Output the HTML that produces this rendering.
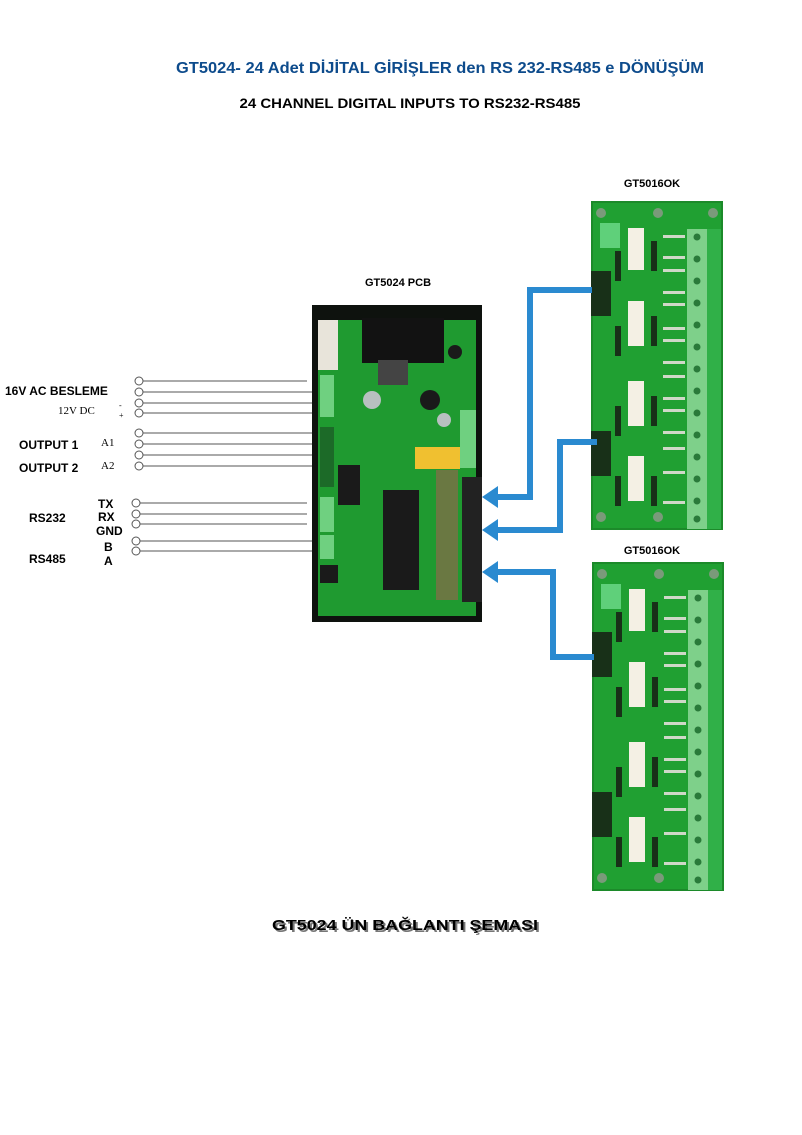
<!DOCTYPE html>
<html><head><meta charset="utf-8">
<style>
html,body{margin:0;padding:0;background:#fff;width:802px;height:1135px;overflow:hidden}
svg{display:block}
.h{font-family:"Liberation Sans",sans-serif;font-weight:bold}
.s{font-family:"Liberation Serif",serif;font-weight:bold}
</style></head><body>
<svg width="802" height="1135" viewBox="0 0 802 1135" xmlns="http://www.w3.org/2000/svg">
<defs>
<g id="board">
  <rect x="0" y="0" width="132" height="329" fill="#1c8a2a"/>
  <rect x="2" y="2" width="128" height="325" fill="#20a032"/>
  <circle cx="10" cy="12" r="5" fill="#7a9a7a"/><circle cx="67" cy="12" r="5" fill="#7a9a7a"/><circle cx="122" cy="12" r="5" fill="#7a9a7a"/>
  <circle cx="10" cy="316" r="5" fill="#7a9a7a"/><circle cx="67" cy="316" r="5" fill="#7a9a7a"/><circle cx="122" cy="316" r="5" fill="#7a9a7a"/>
  <rect x="9" y="22" width="20" height="25" fill="#5fd07a"/>
  <rect x="96" y="28" width="20" height="300" fill="#7ed08a"/>
  <rect x="116" y="28" width="14" height="300" fill="#30b048"/>
  <g fill="#2a7a3a">
   <circle cx="106" cy="36" r="3.5"/><circle cx="106" cy="58" r="3.5"/><circle cx="106" cy="80" r="3.5"/><circle cx="106" cy="102" r="3.5"/><circle cx="106" cy="124" r="3.5"/><circle cx="106" cy="146" r="3.5"/><circle cx="106" cy="168" r="3.5"/><circle cx="106" cy="190" r="3.5"/><circle cx="106" cy="212" r="3.5"/><circle cx="106" cy="234" r="3.5"/><circle cx="106" cy="256" r="3.5"/><circle cx="106" cy="278" r="3.5"/><circle cx="106" cy="300" r="3.5"/><circle cx="106" cy="318" r="3.5"/>
  </g>
  <g fill="#f4f0e4">
   <rect x="37" y="27" width="16" height="42"/><rect x="37" y="100" width="16" height="45"/><rect x="37" y="180" width="16" height="45"/><rect x="37" y="255" width="16" height="45"/>
  </g>
  <g fill="#183018">
   <rect x="0" y="70" width="20" height="45"/><rect x="0" y="230" width="20" height="45"/>
   <rect x="24" y="50" width="6" height="30"/><rect x="24" y="125" width="6" height="30"/><rect x="24" y="205" width="6" height="30"/><rect x="24" y="275" width="6" height="30"/>
   <rect x="60" y="40" width="6" height="30"/><rect x="60" y="115" width="6" height="30"/><rect x="60" y="195" width="6" height="30"/><rect x="60" y="275" width="6" height="30"/>
  </g>
  <g fill="#cfd8c8">
   <rect x="72" y="34" width="22" height="3"/><rect x="72" y="55" width="22" height="3"/><rect x="72" y="68" width="22" height="3"/><rect x="72" y="90" width="22" height="3"/><rect x="72" y="102" width="22" height="3"/><rect x="72" y="126" width="22" height="3"/><rect x="72" y="138" width="22" height="3"/><rect x="72" y="160" width="22" height="3"/><rect x="72" y="174" width="22" height="3"/><rect x="72" y="196" width="22" height="3"/><rect x="72" y="208" width="22" height="3"/><rect x="72" y="230" width="22" height="3"/><rect x="72" y="246" width="22" height="3"/><rect x="72" y="270" width="22" height="3"/><rect x="72" y="300" width="22" height="3"/>
  </g>
</g>
</defs>

<text class="h" x="440" y="73" text-anchor="middle" font-size="16" fill="#0d4b8c" textLength="528" lengthAdjust="spacingAndGlyphs">GT5024-  24 Adet DİJİTAL GİRİŞLER den RS 232-RS485 e DÖNÜŞÜM</text>
<text class="h" x="410" y="108" text-anchor="middle" font-size="14" fill="#000" textLength="341" lengthAdjust="spacingAndGlyphs">24 CHANNEL DIGITAL INPUTS TO RS232-RS485</text>

<text class="h" x="652" y="187" text-anchor="middle" font-size="11" fill="#000">GT5016OK</text>
<text class="h" x="652" y="554" text-anchor="middle" font-size="11" fill="#000">GT5016OK</text>
<text class="h" x="398" y="286" text-anchor="middle" font-size="11" fill="#000">GT5024 PCB</text>

<use href="#board" x="591" y="201"/>
<use href="#board" x="592" y="562"/>

<!-- main PCB -->
<rect x="312" y="305" width="170" height="317" fill="#0e120e"/>
<rect x="318" y="320" width="158" height="296" fill="#1f9a30"/>
<rect x="362" y="318" width="82" height="45" fill="#121212"/>
<rect x="318" y="320" width="20" height="50" fill="#e8e4da"/>
<rect x="320" y="375" width="14" height="42" fill="#6fd080"/>
<rect x="320" y="427" width="14" height="60" fill="#1c6a28"/>
<rect x="320" y="497" width="14" height="35" fill="#6fd080"/>
<rect x="320" y="535" width="14" height="24" fill="#6fd080"/>
<rect x="460" y="410" width="16" height="58" fill="#6fd080"/>
<rect x="415" y="447" width="45" height="22" fill="#f0c030"/>
<rect x="383" y="490" width="36" height="100" fill="#1a1a1a"/>
<rect x="338" y="465" width="22" height="40" fill="#1a1a1a"/>
<rect x="436" y="470" width="22" height="130" fill="#8a6a4a" opacity="0.7"/>
<rect x="462" y="477" width="20" height="42" fill="#222"/>
<rect x="462" y="519" width="20" height="42" fill="#222"/>
<rect x="462" y="560" width="20" height="42" fill="#222"/>
<circle cx="372" cy="400" r="9" fill="#b8c0c0"/>
<circle cx="430" cy="400" r="10" fill="#1a1a1a"/>
<circle cx="444" cy="420" r="7" fill="#b8c0c0"/>
<circle cx="455" cy="352" r="7" fill="#1a1a1a"/>
<rect x="378" y="360" width="30" height="25" fill="#444"/>
<rect x="320" y="565" width="18" height="18" fill="#1a1a1a"/>

<!-- left wires -->
<g stroke="#555" stroke-width="1" fill="#fff">
 <line x1="143" y1="381" x2="307" y2="381"/><line x1="143" y1="392" x2="312" y2="392"/><line x1="143" y1="403" x2="312" y2="403"/><line x1="143" y1="413" x2="312" y2="413"/>
 <line x1="143" y1="433" x2="312" y2="433"/><line x1="143" y1="444" x2="312" y2="444"/><line x1="143" y1="455" x2="312" y2="455"/><line x1="143" y1="466" x2="312" y2="466"/>
 <line x1="140" y1="503" x2="307" y2="503"/><line x1="140" y1="514" x2="307" y2="514"/><line x1="140" y1="524" x2="307" y2="524"/><line x1="140" y1="541" x2="312" y2="541"/><line x1="140" y1="551" x2="312" y2="551"/>
 <circle cx="139" cy="381" r="4"/><circle cx="139" cy="392" r="4"/><circle cx="139" cy="403" r="4"/><circle cx="139" cy="413" r="4"/>
 <circle cx="139" cy="433" r="4"/><circle cx="139" cy="444" r="4"/><circle cx="139" cy="455" r="4"/><circle cx="139" cy="466" r="4"/>
 <circle cx="136" cy="503" r="4"/><circle cx="136" cy="514" r="4"/><circle cx="136" cy="524" r="4"/><circle cx="136" cy="541" r="4"/><circle cx="136" cy="551" r="4"/>
</g>
<g class="h" font-size="12" fill="#000">
 <text x="5" y="395">16V AC BESLEME</text>
 <text x="19" y="449">OUTPUT 1</text>
 <text x="19" y="472">OUTPUT 2</text>
 <text x="29" y="522">RS232</text>
 <text x="29" y="563">RS485</text>
 <text x="98" y="508">TX</text>
 <text x="98" y="521">RX</text>
 <text x="96" y="535">GND</text>
 <text x="104" y="551">B</text>
 <text x="104" y="565">A</text>
</g>
<g class="s" font-size="11" fill="#000">
 <text x="58" y="414" font-weight="normal">12V DC</text>
 <text x="101" y="446" font-weight="normal">A1</text>
 <text x="101" y="469" font-weight="normal">A2</text>
 <text x="119" y="408" font-weight="normal" font-size="8">-</text>
 <text x="119" y="418" font-weight="normal" font-size="8">+</text>
</g>

<!-- blue connectors -->
<g fill="none" stroke="#2a8ad0" stroke-width="6">
 <path d="M592 290 H530 V497 H497"/>
 <path d="M597 442 H560 V530 H497"/>
 <path d="M497 572 H553 V657 H594"/>
</g>
<g fill="#2a8ad0">
 <polygon points="482,497 498,486 498,508"/>
 <polygon points="482,530 498,519 498,541"/>
 <polygon points="482,572 498,561 498,583"/>
</g>

<text class="h" x="405" y="930" text-anchor="middle" font-size="15" fill="#777" transform="translate(2,2)" textLength="266" lengthAdjust="spacingAndGlyphs">GT5024 ÜN BAĞLANTI ŞEMASI</text>
<text class="h" x="405" y="930" text-anchor="middle" font-size="15" fill="#000" textLength="266" lengthAdjust="spacingAndGlyphs">GT5024 ÜN BAĞLANTI ŞEMASI</text>
</svg>
</body></html>
